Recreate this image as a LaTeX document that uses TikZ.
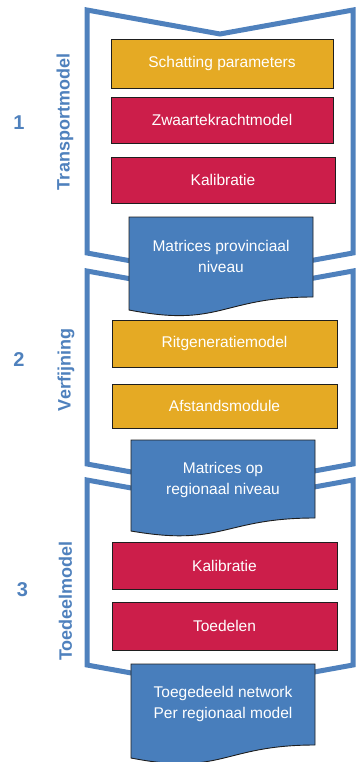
\documentclass[tikz,border=0pt]{standalone}
\usepackage{fontspec}
\setmainfont{Liberation Sans}
\definecolor{cgold}{RGB}{229,170,36}
\definecolor{cred}{RGB}{204,30,74}
\definecolor{cblue}{RGB}{72,126,188}
\definecolor{cline}{RGB}{79,129,189}
\definecolor{cedge}{RGB}{30,30,30}
\begin{document}
\begin{tikzpicture}[x=1pt,y=-1pt,
  chev/.style={draw=cline,fill=white,line width=5pt,line join=miter},
  box/.style={draw=cedge,line width=0.9pt,inner sep=0pt,text=white,
    font=\fontsize{15.5}{19}\selectfont},
  docshape/.style={draw=cedge,fill=cblue,line width=0.9pt},
  doctext/.style={text=white,align=center,inner sep=0pt,
    font=\fontsize{15.5}{21}\selectfont},
  num/.style={text=cline,font=\fontsize{20}{24}\selectfont\bfseries},
  side/.style={text=cline,rotate=90,font=\fontsize{18}{22}\selectfont\bfseries}]
\useasboundingbox (0,0) rectangle (358,762);
% chevrons
\draw[chev] (87,10) -- (220,34) -- (353,10) -- (353,253) -- (220,277) -- (87,253) -- cycle;
\draw[chev] (87,271) -- (220,295) -- (353,271) -- (353,464) -- (220,488) -- (87,464) -- cycle;
\draw[chev] (87,480) -- (220,504) -- (353,480) -- (353,665) -- (220,689) -- (87,665) -- cycle;
% section 1
\node[box,fill=cgold,minimum width=222,minimum height=49] (sp) at (222,63.5) {Schatting parameters};
\node[box,fill=cred,minimum width=222,minimum height=46] (zw) at (222,120) {Zwaartekrachtmodel};
\node[box,fill=cred,minimum width=224,minimum height=46] (ka1) at (223,180) {Kalibratie};
\draw[docshape] (129,217) -- (313,217) -- (313,297) .. controls (221,297) and (221,328) .. (129,310) -- cycle;
\node[doctext] (mp) at (221,256.5) {Matrices provinciaal\\niveau};
% section 2
\node[box,fill=cgold,minimum width=225,minimum height=47] (rg) at (224.5,343.5) {Ritgeneratiemodel};
\node[box,fill=cgold,minimum width=225,minimum height=44] (af) at (224.5,406) {Afstandsmodule};
\draw[docshape] (131,440) -- (315,440) -- (315,518) .. controls (223,518) and (223,547) .. (131,531) -- cycle;
\node[doctext] (mr) at (223,480) {Matrices op\\regionaal niveau};
% section 3
\node[box,fill=cred,minimum width=225,minimum height=47] (ka3) at (224.5,565.5) {Kalibratie};
\node[box,fill=cred,minimum width=225,minimum height=48] (td) at (224.5,626) {Toedelen};
\draw[docshape] (131,664) -- (315,664) -- (315,745) .. controls (223,745) and (223,776) .. (131,758) -- cycle;
\node[doctext] (tn) at (223,704) {Toegedeeld network\\Per regionaal model};
% labels
\node[num] (n1) at (19,122.5) {1};
\node[num] (n2) at (19,360) {2};
\node[num] (n3) at (22.5,589.5) {3};
\node[side] (l1) at (65,122) {Transportmodel};
\node[side] (l2) at (66,370) {Verfijning};
\node[side] (l3) at (65.5,601) {Toedeelmodel};
\end{tikzpicture}
\end{document}
